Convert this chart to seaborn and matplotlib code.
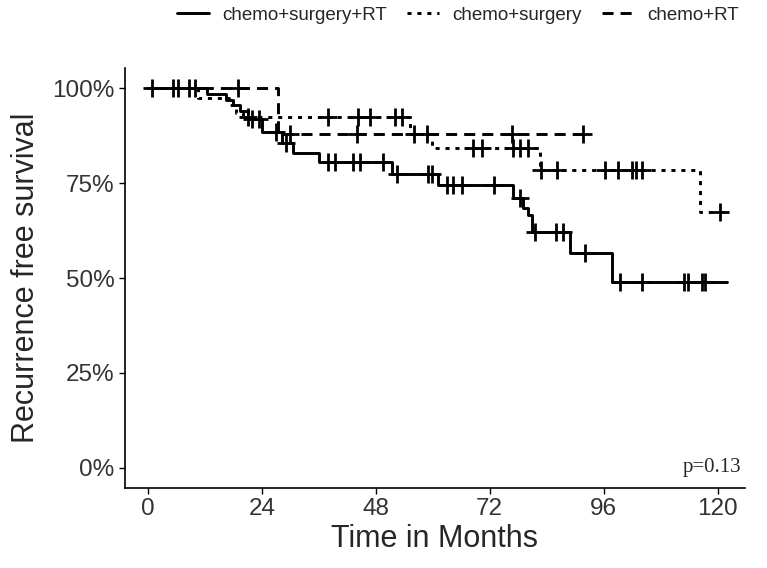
import numpy as np
import pandas as pd
import matplotlib
matplotlib.use('Agg')
import matplotlib.pyplot as plt
import seaborn as sns
from matplotlib.ticker import PercentFormatter

# step points of each Kaplan-Meier curve (time in months, survival)
csr_time = [0, 12.5, 16.5, 18.0, 19.5, 21.0, 24.0, 28.2, 30.5, 36.0, 51.5, 61.0,
            76.8, 79.0, 80.0, 81.0, 88.8, 97.7, 122.0]
csr_surv = [1.0, 0.985, 0.97, 0.955, 0.94, 0.92, 0.885, 0.855, 0.83, 0.805, 0.775, 0.745,
            0.71, 0.685, 0.665, 0.62, 0.565, 0.49, 0.49]
csr_cens = [0.8, 5.3, 6.3, 8.6, 9.9, 22.0, 23.5, 27.0, 29.0, 38.0, 39.4, 43.2, 44.6,
            49.5, 52.4, 59.0, 59.8, 63.0, 64.2, 66.1, 73.0, 78.3, 81.5, 86.0, 87.5,
            92.0, 99.4, 104.0, 113.0, 113.8, 116.6, 117.3]

cs_time = [0, 10.5, 17.0, 18.5, 20.0, 55.2, 59.8, 82.5, 116.2, 122.0]
cs_surv = [1.0, 0.975, 0.955, 0.935, 0.924, 0.88, 0.842, 0.785, 0.675, 0.675]
cs_cens = [21.0, 38.0, 44.2, 46.7, 52.0, 53.5, 58.7, 68.4, 70.3, 76.8, 78.3, 80.0,
           82.8, 86.1, 96.2, 99.0, 101.9, 102.9, 104.0, 120.4]

cr_time = [0, 27.4, 91.6]
cr_surv = [1.0, 0.88, 0.88]
cr_cens = [19.0, 30.0, 44.0, 56.0, 76.6, 91.6]

groups = ['chemo+surgery+RT', 'chemo+surgery', 'chemo+RT']
curves = {'chemo+surgery+RT': (csr_time, csr_surv, csr_cens),
          'chemo+surgery': (cs_time, cs_surv, cs_cens),
          'chemo+RT': (cr_time, cr_surv, cr_cens)}

line_rows = []
cens_rows = []
for g in groups:
    t, s, c = curves[g]
    for ti, si in zip(t, s):
        line_rows.append({'time': ti, 'surv': si, 'group': g})
    # survival level at each censor time (lookup on the step curve)
    for ci in c:
        idx = np.searchsorted(t, ci, side='right') - 1
        cens_rows.append({'time': ci, 'surv': s[idx], 'group': g})
lines = pd.DataFrame(line_rows)
cens = pd.DataFrame(cens_rows)

sns.set_theme(style='ticks')
plt.rcParams['font.family'] = ['Liberation Sans', 'DejaVu Sans']

fig = plt.figure(figsize=(7.67, 5.68), dpi=100)
ax = fig.add_axes([0.163, 0.141, 0.808, 0.739])

sns.lineplot(data=lines, x='time', y='surv', hue='group', style='group',
             hue_order=groups, style_order=groups,
             palette=['black'] * 3,
             dashes={'chemo+surgery+RT': '', 'chemo+surgery': (1.4, 2.0),
                     'chemo+RT': (3.8, 2.4)},
             drawstyle='steps-post', estimator=None, sort=False,
             linewidth=2.1, ax=ax)
sns.scatterplot(data=cens, x='time', y='surv', marker='+', color='black',
                s=160, linewidth=2.0, legend=False, ax=ax, zorder=3)

ax.set_xlim(-4.8, 125.7)
ax.set_ylim(-0.0526, 1.0526)
ax.set_xticks([0, 24, 48, 72, 96, 120])
ax.set_yticks([0, 0.25, 0.5, 0.75, 1.0])
ax.yaxis.set_major_formatter(PercentFormatter(1.0, decimals=0))
ax.tick_params(labelsize=17.5, colors='black', labelcolor='#333333', length=4, width=1)
for side in ['top', 'right']:
    ax.spines[side].set_visible(False)
for side in ['left', 'bottom']:
    ax.spines[side].set_linewidth(1.2)
    ax.spines[side].set_color('black')
ax.set_xlabel('Time in Months', fontsize=22, labelpad=3)
ax.set_ylabel('Recurrence free survival', fontsize=22, labelpad=8)

ax.text(124.9, 0.0, 'p=0.13', fontsize=15, family='Liberation Serif',
        ha='right', va='center')

sns.move_legend(ax, 'upper center', bbox_to_anchor=(0.597, 1.018),
                bbox_transform=fig.transFigure, ncol=3, frameon=False,
                title=None, fontsize=13.5, handlelength=1.7, columnspacing=1.1,
                handletextpad=0.7)

fig.savefig('out.png', dpi=100)
